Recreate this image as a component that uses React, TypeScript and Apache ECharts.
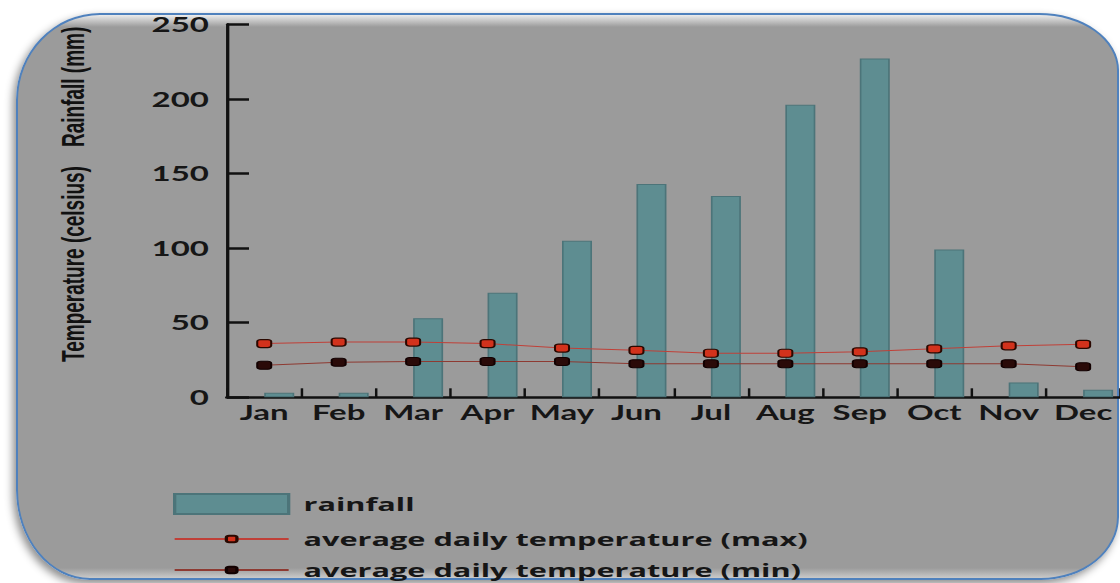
import React, { useEffect, useRef } from "react";
import * as echarts from "echarts";

const months = ["Jan", "Feb", "Mar", "Apr", "May", "Jun", "Jul", "Aug", "Sep", "Oct", "Nov", "Dec"];
const rainfall = [3, 3, 53, 70, 105, 143, 135, 196, 227, 99, 10, 5];
const tempMax = [36, 37, 37, 36, 33, 31.5, 29.5, 29.5, 30.5, 32.5, 34.5, 35.5];
const tempMin = [21.5, 23.5, 24, 24, 24, 22.5, 22.5, 22.5, 22.5, 22.5, 22.5, 20.5];
const yTicks = [0, 50, 100, 150, 200, 250];
const seriesNames = ["rainfall", "average daily temperature (max)", "average daily temperature (min)"];
const axisTitleParts = ["Temperature (celsius)", "Rainfall (mm)"];

const S = 1.65; // horizontal stretch of the reference picture
const W = 1120 / S;
const H = 583;
const sx = (v: number) => v / S;

export default function App() {
  const ref = useRef<HTMLDivElement>(null);

  useEffect(() => {
    if (!ref.current) return;
    const chart = echarts.init(ref.current, undefined, { renderer: "svg" });
    const labelFont = { fontFamily: "Lato", fontWeight: "bold" as const, fontSize: 20, color: "#161616" };
    const legendText = {
      fontFamily: "Open Sans",
      fontWeight: "bold" as const,
      fontSize: 18.6,
      lineHeight: 20,
      color: "#161616",
      padding: [0, 0, 0, 4],
    };
    const titleStyle = (text: string) => ({
      text,
      fontFamily: "Liberation Sans",
      fontWeight: "bold",
      fontSize: 19,
      fill: "#111",
      align: "left",
      verticalAlign: "middle",
      textAlign: "left",
      textVerticalAlign: "middle",
    });
    chart.setOption({
      animation: false,
      backgroundColor: "transparent",
      grid: { left: sx(227), right: W - sx(1127), top: 24.3, bottom: H - 397.3, containLabel: false },
      legend: [
        {
          data: [{ name: seriesNames[0], icon: "rect" }],
          orient: "vertical",
          left: sx(173),
          top: 493,
          padding: 0,
          itemWidth: sx(114),
          itemHeight: 20,
          textStyle: legendText,
        },
        {
          data: [seriesNames[1], seriesNames[2]],
          orient: "vertical",
          left: sx(173),
          top: 529,
          padding: 0,
          itemWidth: sx(114),
          itemHeight: 8,
          itemGap: 11,
          textStyle: legendText,
        },
      ],
      xAxis: {
        type: "category",
        data: months,
        boundaryGap: true,
        axisLine: { show: true, lineStyle: { color: "#111", width: 2.5 } },
        axisTick: { show: true, inside: true, length: 9, lineStyle: { color: "#111", width: 1.5 } },
        axisLabel: { ...labelFont, margin: 5, interval: 0 },
        splitLine: { show: false },
      },
      yAxis: {
        type: "value",
        min: yTicks[0],
        max: yTicks[yTicks.length - 1],
        interval: yTicks[1] - yTicks[0],
        axisLine: { show: true, lineStyle: { color: "#111", width: 2 } },
        axisTick: { show: true, inside: true, length: sx(22), lineStyle: { color: "#111", width: 2.5 } },
        axisLabel: { ...labelFont, margin: sx(18) },
        splitLine: { show: false },
      },
      graphic: [
        { type: "text", x: sx(73), y: 362, rotation: Math.PI / 2, style: titleStyle(axisTitleParts[0]) },
        { type: "text", x: sx(73), y: 147, rotation: Math.PI / 2, style: titleStyle(axisTitleParts[1]) },
      ],
      series: [
        {
          // empty slot on the left of each category so the rainfall bar starts at the category centre
          name: "_slot",
          type: "bar",
          data: [],
          barWidth: sx(30),
          barGap: "0%",
          silent: true,
        },
        {
          name: seriesNames[0],
          type: "bar",
          data: rainfall,
          barWidth: sx(30),
          barGap: "0%",
          itemStyle: { color: "#5e8d91", borderColor: "#4c7479", borderWidth: 1 },
        },
        {
          name: seriesNames[1],
          type: "line",
          data: tempMax,
          symbol: "roundRect",
          symbolSize: [sx(14), 8],
          lineStyle: { color: "#c04038", width: 1 },
          itemStyle: { color: "#d2321c", borderColor: "#2a0800", borderWidth: 1.2 },
          z: 5,
        },
        {
          name: seriesNames[2],
          type: "line",
          data: tempMin,
          symbol: "roundRect",
          symbolSize: [sx(14), 8],
          lineStyle: { color: "#8e3a32", width: 1 },
          itemStyle: { color: "#2a0a08", borderColor: "#120000", borderWidth: 1.2 },
          z: 5,
        },
      ],
    });
    return () => chart.dispose();
  }, []);

  return (
    <div
      style={{
        position: "fixed",
        left: 0,
        top: 0,
        width: 1120,
        height: H,
        overflow: "hidden",
        background: "#ffffff",
      }}
    >
      <div
        style={{
          position: "absolute",
          left: 16,
          top: 13,
          width: 1103,
          height: 567,
          boxSizing: "border-box",
          border: "2px solid #4f81bd",
          borderRadius: "84px 80px 78px 74px / 87px 57px 63px 90px",
          background:
            "linear-gradient(to bottom, #ececec 0px, #9b9b9b 12px, #9b9b9b 553px, #dcdcdc 567px)",
          boxShadow: "-3px 4px 8px rgba(0,0,0,0.45)",
        }}
      />
      <div
        ref={ref}
        style={{
          position: "absolute",
          left: 0,
          top: 0,
          width: W,
          height: H,
          transform: `scaleX(${S})`,
          transformOrigin: "0 0",
        }}
      />
    </div>
  );
}
